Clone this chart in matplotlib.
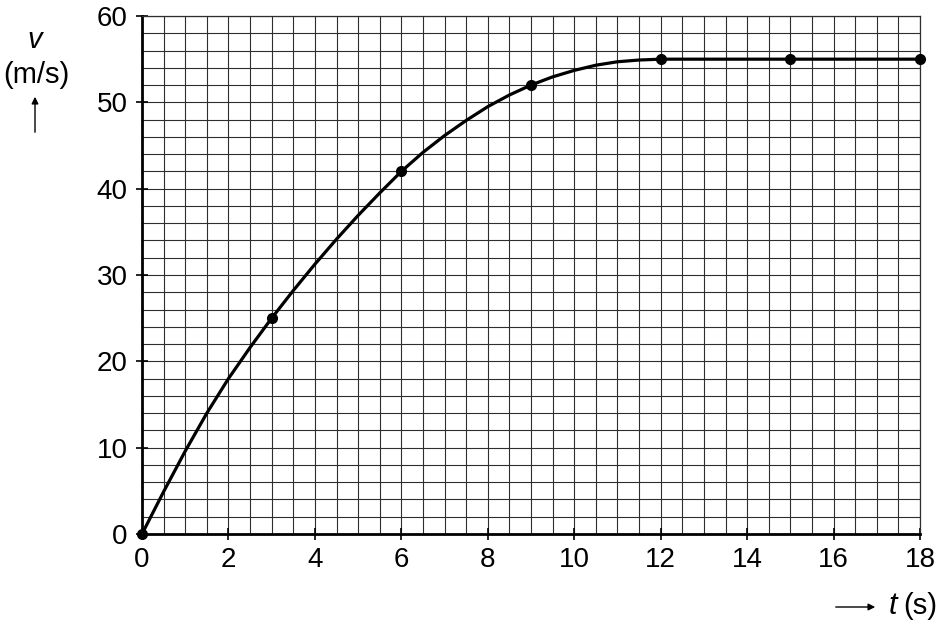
import numpy as np
import matplotlib.pyplot as plt
from matplotlib.patches import FancyArrowPatch
from matplotlib.ticker import MultipleLocator

plt.rcParams['font.family'] = ['Liberation Sans', 'DejaVu Sans']

# --- Data ---
# measured points (dots)
t_pts = [0, 3, 6, 9, 12, 15, 18]
v_pts = [0, 25, 42, 52, 55, 55, 55]

# the drawn curve, read every 0.5 s, then flat to 18 s
t_curve = [0, 0.5, 1, 1.5, 2, 2.5, 3, 3.5, 4, 4.5, 5, 5.5, 6,
           6.5, 7, 7.5, 8, 8.5, 9, 9.5, 10, 10.5, 11, 11.5, 12, 18]
v_curve = [0, 4.9, 9.6, 14.0, 18.0, 21.6, 25.0, 28.2, 31.25, 34.15, 36.9, 39.5, 42.0,
           44.2, 46.15, 47.9, 49.5, 50.85, 52.0, 52.95, 53.7, 54.3, 54.7, 54.9, 55.0, 55.0]

x_ticks = [0, 2, 4, 6, 8, 10, 12, 14, 16, 18]
y_ticks = [0, 10, 20, 30, 40, 50, 60]

COL_GRID = '#2e2e2e'

fig = plt.figure(figsize=(9.38, 6.26), dpi=100)
ax = fig.add_axes([142 / 938, 92 / 626, 778 / 938, 518 / 626])

ax.set_xlim(0, 18)
ax.set_ylim(0, 60)
ax.set_xticks(x_ticks)
ax.set_yticks(y_ticks)
ax.xaxis.set_minor_locator(MultipleLocator(0.5))
ax.yaxis.set_minor_locator(MultipleLocator(2))
ax.grid(which='both', color=COL_GRID, linewidth=0.8)
ax.set_axisbelow(True)
ax.tick_params(which='minor', length=0)
ax.tick_params(which='major', direction='inout', length=9, width=1.2,
               labelsize=20, colors='black')
ax.tick_params(axis='x', pad=5)
ax.tick_params(axis='y', pad=6)

for side in ['left', 'bottom']:
    ax.spines[side].set_linewidth(2.0)
    ax.spines[side].set_color('black')
for side in ['top', 'right']:
    ax.spines[side].set_linewidth(0.9)
    ax.spines[side].set_color(COL_GRID)

ax.plot(t_curve, v_curve, color='black', linewidth=2.3, solid_capstyle='round',
        solid_joinstyle='round', clip_on=False, zorder=3)
ax.plot(t_pts, v_pts, 'o', color='black', markersize=7, clip_on=False, zorder=4)

# axis labels with arrows
fig.text(35 / 938, 1 - 40 / 626, 'v', fontsize=21, style='italic',
         ha='center', va='center')
fig.text(36 / 938, 1 - 75 / 626, '(m/s)', fontsize=21, ha='center', va='center')
fig.add_artist(FancyArrowPatch(
    (35 / 938, 1 - 135 / 626), (35 / 938, 1 - 94 / 626),
    transform=fig.transFigure, arrowstyle='-|>', mutation_scale=10,
    color='black', linewidth=1.0))

fig.text(889 / 938, 1 - 606 / 626, 't', fontsize=22, style='italic',
         ha='left', va='center')
fig.text(903 / 938, 1 - 606 / 626, '(s)', fontsize=21, ha='left', va='center')
fig.add_artist(FancyArrowPatch(
    (833 / 938, 1 - 607 / 626), (878 / 938, 1 - 607 / 626),
    transform=fig.transFigure, arrowstyle='-|>', mutation_scale=10,
    color='black', linewidth=1.0))

fig.savefig('out.png', dpi=100, facecolor='white')
